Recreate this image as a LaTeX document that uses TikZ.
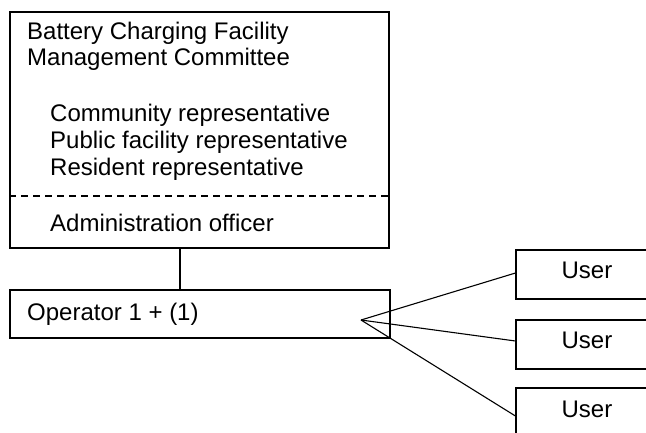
\documentclass[tikz,border=0pt]{standalone}
\usepackage{fontspec}
\setmainfont{Liberation Sans}
\begin{document}
\begin{tikzpicture}[x=1pt,y=-1pt,
  box/.style={draw,line width=1.1pt,rectangle,inner sep=0pt},
  txt/.style={anchor=base west,inner sep=0pt,font=\fontsize{24}{27}\selectfont},
  ctxt/.style={anchor=base,inner sep=0pt,font=\fontsize{24}{27}\selectfont},
  conn/.style={line width=1.1pt}]
\useasboundingbox (0,0) rectangle (646,432);
% committee box
\node[box,minimum width=379pt,minimum height=236pt] (cmt) at (199.5,130) {};
\node[txt] (t1) at (27,39) {Battery Charging Facility};
\node[txt] (t2) at (27,65) {Management Committee};
\node[txt] (r1) at (50,121) {Community representative};
\node[txt] (r2) at (50,148) {Public facility representative};
\node[txt] (r3) at (50,175) {Resident representative};
\draw[conn,dash pattern=on 7pt off 5pt] (cmt.west |- 0,196) coordinate (dl) -- (cmt.east |- 0,196) coordinate (dr);
\node[txt] (adm) at (50,231) {Administration officer};
% operator
\node[box,minimum width=380pt,minimum height=48pt] (op) at (200,314) {};
\node[txt] (optxt) at (27,320) {Operator 1 + (1)};
\draw[conn] (cmt.south -| 180,0) coordinate (c1) -- (op.north -| 180,0);
% users
\node[box,minimum width=142pt,minimum height=49pt] (u1) at (587,274.5) {};
\node[box,minimum width=142pt,minimum height=49pt] (u2) at (587,344.5) {};
\node[box,minimum width=142pt,minimum height=49pt] (u3) at (587,412.5) {};
\node[ctxt] (l1) at (587,278.5) {User};
\node[ctxt] (l2) at (587,348.5) {User};
\node[ctxt] (l3) at (587,417) {User};
\coordinate (hub) at (361,320);
\draw[conn] (hub) -- (u1.west |- 0,273);
\draw[conn] (hub) -- (u2.west |- 0,341);
\draw[conn] (hub) -- (u3.west |- 0,416);
\end{tikzpicture}
\end{document}
